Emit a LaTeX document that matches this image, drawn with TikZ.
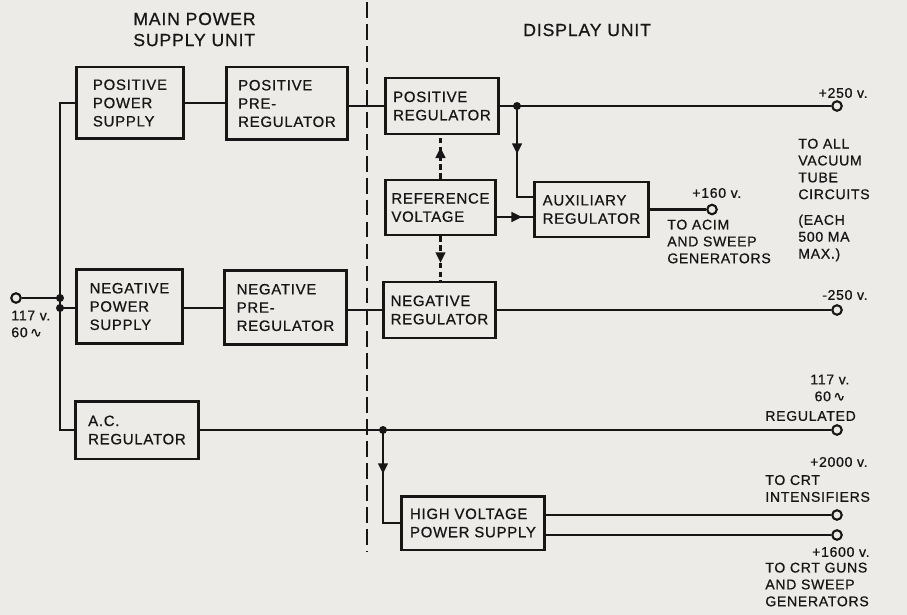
\documentclass[tikz,border=0pt]{standalone}
\usepackage{fontspec}
\setmainfont{Liberation Sans}
\newfontfamily\lettering[LetterSpace=5, FakeBold=0.7]{Liberation Sans}
\newfontfamily\wavefont[FakeBold=0.7]{DejaVu Sans}
\usetikzlibrary{arrows.meta, decorations.markings}
\definecolor{paper}{RGB}{236,235,232}
\definecolor{ink}{RGB}{22,22,22}
\newcommand{\wave}{{\wavefont ∿}}

\begin{document}
\begin{tikzpicture}[x=0.02cm, y=-0.02cm, color=ink,
        unit/.style={rectangle, draw=ink, line width=1.7pt, align=left, inner sep=0pt, font=\lettering\fontsize{8.5}{10.4}\selectfont},
        term/.style={circle, draw=ink, line width=1.2pt, fill=paper, inner sep=0pt, minimum size=0.19cm},
        junc/.style={circle, fill=ink, inner sep=0pt, minimum size=0.16cm},
        wire/.style={draw=ink, line width=1.3pt},
        refline/.style={wire, dash pattern=on 3pt off 2pt},
        sepline/.style={draw=ink, line width=1.3pt, dash pattern=on 9pt off 3.5pt},
        midarrow/.style={postaction={decorate}, decoration={markings, mark=at position #1 with {\arrow{Triangle[width=5.5pt, length=6pt]}}}},
        lbl/.style={font=\lettering\fontsize{8}{9.6}\selectfont, align=left, inner sep=0pt},
        title/.style={font=\lettering\fontsize{10}{12}\selectfont, align=left, inner sep=0pt}
    ]
        \useasboundingbox[fill=paper] (0,0) rectangle (907,615);

        % headings and unit boundary
        \node[title, anchor=west] (mainT) at (133,29.5) {MAIN POWER\\SUPPLY UNIT};
        \node[title, anchor=west] (dispT) at (523,30) {DISPLAY UNIT};
        \coordinate (sepT) at (367,2);
        \coordinate (sepB) at (367,552);
        \draw[sepline] (sepT) -- (sepB);

        % blocks
        \node[unit, minimum width=2.16cm, minimum height=1.44cm] (pps) at (130,103) {POSITIVE\\POWER\\SUPPLY};
        \node[unit, minimum width=2.44cm, minimum height=1.46cm] (ppr) at (287,103.5) {POSITIVE\\PRE-\\REGULATOR};
        \node[unit, minimum width=2.28cm, minimum height=1.12cm] (preg) at (442,106) {POSITIVE\\REGULATOR};
        \node[unit, minimum width=2.22cm, minimum height=1.10cm] (ref) at (440.5,207.5) {REFERENCE\\VOLTAGE};
        \node[unit, minimum width=2.30cm, minimum height=1.10cm] (aux) at (591.5,209.5) {AUXILIARY\\REGULATOR};
        \node[unit, minimum width=2.14cm, minimum height=1.50cm] (nps) at (129.5,306.5) {NEGATIVE\\POWER\\SUPPLY};
        \node[unit, minimum width=2.46cm, minimum height=1.50cm] (npr) at (285.5,307.5) {NEGATIVE\\PRE-\\REGULATOR};
        \node[unit, minimum width=2.26cm, minimum height=1.12cm] (nreg) at (439.5,310) {NEGATIVE\\REGULATOR};
        \node[unit, minimum width=2.48cm, minimum height=1.16cm] (acr) at (137,430) {A.C.\\REGULATOR};
        \node[unit, minimum width=2.88cm, minimum height=1.08cm] (hv) at (473,523) {HIGH VOLTAGE\\POWER SUPPLY};

        % terminals and junctions
        \node[term] (tin) at (16,298) {};
        \node[term] (tp250) at (837,106) {};
        \node[term] (tp160) at (712,209.5) {};
        \node[term] (tn250) at (837,310) {};
        \node[term] (tac) at (837,430) {};
        \node[term] (tp2000) at (837,515) {};
        \node[term] (tp1600) at (837,535) {};
        \node[junc] (jin) at (60,298) {};
        \node[junc] (jneg) at (60,308) {};
        \node[junc] (jpos) at (517,106) {};
        \node[junc] (jac) at (383,430) {};

        % input bus
        \draw[wire] (tin) -- (jin.center);
        \draw[wire] (pps.west) -| (jneg.center) -- (jneg.center |- acr.west) -- (acr.west);
        \draw[wire] (jneg.center) -- (nps.west |- jneg.center);

        % positive chain
        \draw[wire] (pps.east) -- (pps.east -| ppr.west);
        \draw[wire] (ppr.east |- preg.west) -- (preg.west);
        \draw[wire] (preg.east) -- (tp250);
        \draw[wire, midarrow=0.45] (jpos.center) |- ([yshift=0.25cm]aux.west);
        \draw[wire, midarrow=0.7] ([yshift=-0.19cm]ref.east) -- ([yshift=-0.19cm]ref.east -| aux.west);
        \draw[wire] (aux.east) -- (tp160);
        \draw[refline, midarrow=0.72] (ref.north) -- (ref.north |- preg.south);
        \draw[refline, midarrow=0.6] (ref.south) -- (ref.south |- nreg.north);

        % negative chain
        \draw[wire] (nps.east |- jneg) -- (npr.west |- jneg);
        \draw[wire] (npr.east |- nreg.west) -- (nreg.west);
        \draw[wire] (nreg.east) -- (tn250);

        % a.c. and high voltage
        \draw[wire] (acr.east) -- (tac);
        \draw[wire, midarrow=0.4] (jac.center) |- (hv.west);
        \draw[wire] (hv.east |- tp2000) -- (tp2000);
        \draw[wire] (hv.east |- tp1600) -- (tp1600);

        % labels
        \node[lbl, anchor=west] (linV) at (11,324) {117 v.\\60\,\wave};
        \node[lbl, anchor=east] (l250) at (868,93) {+250 v.};
        \node[lbl, anchor=west] (lall) at (798,169) {TO ALL\\VACUUM\\TUBE\\CIRCUITS};
        \node[lbl, anchor=west] (leach) at (798,238) {(EACH\\500 MA\\MAX.)};
        \node[lbl, anchor=west] (l160) at (692,193) {+160 v.};
        \node[lbl, anchor=west] (lacim) at (667,241.5) {TO ACIM\\AND SWEEP\\GENERATORS};
        \node[lbl, anchor=east] (lm250) at (868,295) {-250 v.};
        \node[lbl, anchor=west, align=center] (lacV) at (810,388) {117 v.\\60\,\wave};
        \node[lbl, anchor=west] (lreg) at (765,416) {REGULATED};
        \node[lbl, anchor=east] (l2000) at (868,462) {+2000 v.};
        \node[lbl, anchor=west] (lint) at (765,488.5) {TO CRT\\INTENSIFIERS};
        \node[lbl, anchor=east] (l1600) at (870,552) {+1600 v.};
        \node[lbl, anchor=west] (lguns) at (765,584.5) {TO CRT GUNS\\AND SWEEP\\GENERATORS};
    \end{tikzpicture}
\end{document}
